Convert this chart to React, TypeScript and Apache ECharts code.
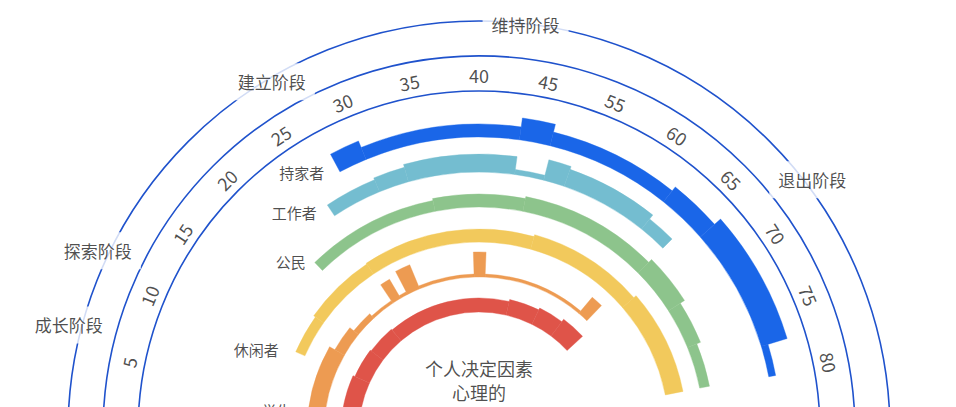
import { useEffect, useRef } from "react"
import * as echarts from "echarts"

// angle axis runs 0..80 from the left end (180°) to the right end (0°), one tick every 5 units
const tickLabels = ["", "5", "10", "15", "20", "25", "30", "35", "40", "45", "55", "60", "65", "70", "75", "80", ""]
const stageNames = ["成长阶段", "探索阶段", "建立阶段", "维持阶段", "退出阶段"]
const roleNames = ["子女", "学生", "休闲者", "公民", "工作者", "持家者"]
const centerLines = ["个人决定因素", "心理的", "生物的"]

// [start, end, thickness] along the angle axis
const childSegments = [[0, 10.7, 18], [10.7, 16.4, 16], [16.4, 22, 15], [22, 45.8, 14], [45.8, 51.6, 16], [51.6, 56.4, 18], [56.4, 61, 21]]
const studentSegments = [[0, 13.2, 17], [13.2, 17.3, 11], [17.3, 21, 6], [21, 25, 3], [25, 26.5, 22], [26.5, 27.8, 3], [27.8, 30, 26], [30, 39.2, 3], [39.2, 41, 25], [41, 57.8, 3], [57.8, 59.6, 21]]
const leisureSegments = [[10.5, 15.6, 10], [15.6, 25, 12], [25, 47, 13], [47, 61.8, 15], [61.8, 75, 18]]
const citizenSegments = [[20.4, 35, 11], [35, 45, 13], [45, 60, 15], [60, 65.5, 19], [65.5, 70.2, 14], [70.2, 75, 10]]
const workerSegments = [[25, 30, 13], [30, 33, 15], [33, 43.5, 18], [43.5, 46.4, 5], [46.4, 48.5, 21], [48.5, 57.2, 18], [57.2, 60, 13]]
const homemakerSegments = [[27.5, 30, 20], [30, 43.5, 13], [43.5, 46.2, 22], [46.2, 57.2, 14], [57.2, 61.6, 19], [61.6, 72.5, 27], [72.5, 75.2, 7]]

const roleSegments = [childSegments, studentSegments, leisureSegments, citizenSegments, workerSegments, homemakerSegments]

// layout
const CENTER = [479, 432]
const ringInner = [120, 155, 190, 225, 260, 295]
const ringColors = ["#df5449", "#ed9b52", "#f2c95c", "#8dc48c", "#74bdd0", "#1a66e8"]
const guideRadii = [341, 376, 411]
const TICK_R = 357
const stageLabelAt = [[424, 6.5], [422, 11.3], [407, 26.4], [410, 42.9], [418, 63.5]]
// the child label sits below the visible area, so it has no position here
const roleLabelAt: (number[] | null)[] = [null, [187, 3], [215, 10], [242, 19.9], [272, 23.9], [301, 26.4]]
const CENTER_TEXT_AT = [40, 40]

const FONT = "'Noto Sans CJK SC', 'Noto Sans', sans-serif"
const TEXT = "#1f1f1f"
const ARC = "#1f52cc"

const angleOf = (p: number[], cx: number, cy: number) => {
  let a = Math.atan2(p[1] - cy, p[0] - cx)
  if (a > Math.PI / 2) a -= Math.PI * 2
  return a
}

export default function App() {
  const chartRef = useRef<HTMLDivElement>(null)

  useEffect(() => {
    if (!chartRef.current) return
    const chart = echarts.init(chartRef.current, null, { renderer: "svg" })

    const ringRows: number[][] = []
    roleSegments.forEach((segs, i) => {
      segs.forEach(([s, e, t]) => ringRows.push([s, e, ringInner[i], t, i]))
    })

    const labelSeries = (data: any[], label: any, z = 6) => ({
      type: "scatter",
      coordinateSystem: "polar",
      silent: true,
      symbolSize: 1,
      itemStyle: { color: "transparent" },
      z,
      data,
      label: { show: true, formatter: "{b}", color: TEXT, fontFamily: FONT, ...label },
    })

    const option = {
      animation: false,
      polar: { center: CENTER, radius: 440 },
      angleAxis: { type: "value", min: 0, max: 80, startAngle: 180, endAngle: 0, clockwise: true, show: false },
      radiusAxis: { type: "value", min: 0, max: 440, show: false },
      series: [
        {
          type: "custom",
          coordinateSystem: "polar",
          silent: true,
          encode: { radius: 2, angle: 0 },
          data: ringRows,
          renderItem: (params: any, api: any) => {
            const cs = params.coordSys
            const s = api.value(0)
            const e = api.value(1)
            const r0 = api.value(2)
            const t = api.value(3)
            const color = ringColors[api.value(4)]
            const a = api.coord([r0, s])
            const b = api.coord([r0, e])
            const c = api.coord([r0 + t, s])
            return {
              type: "sector",
              shape: {
                cx: cs.cx,
                cy: cs.cy,
                r0: Math.hypot(a[0] - cs.cx, a[1] - cs.cy),
                r: Math.hypot(c[0] - cs.cx, c[1] - cs.cy),
                startAngle: angleOf(a, cs.cx, cs.cy),
                endAngle: angleOf(b, cs.cx, cs.cy),
                clockwise: true,
              },
              style: { fill: color, stroke: color, lineWidth: 0.4 },
            }
          },
        },
        {
          type: "custom",
          coordinateSystem: "polar",
          silent: true,
          encode: { radius: 0, angle: 1 },
          data: guideRadii.map((r) => [r, 0, 80]),
          renderItem: (params: any, api: any) => {
            const cs = params.coordSys
            const a = api.coord([api.value(0), api.value(1)])
            const b = api.coord([api.value(0), api.value(2)])
            return {
              type: "arc",
              shape: {
                cx: cs.cx,
                cy: cs.cy,
                r: Math.hypot(a[0] - cs.cx, a[1] - cs.cy),
                startAngle: angleOf(a, cs.cx, cs.cy),
                endAngle: angleOf(b, cs.cx, cs.cy),
                clockwise: true,
              },
              style: { stroke: ARC, lineWidth: 1.6, fill: "none" },
            }
          },
        },
        // age ticks
        labelSeries(
          tickLabels
            .map((t, i) => ({ name: t, value: [TICK_R, i * 5], label: { rotate: 90 - i * 11.25 } }))
            .filter((d) => d.name !== ""),
          { position: "inside", fontSize: 18 },
          5
        ),
        // life stages
        labelSeries(
          stageNames.map((n, i) => ({ name: n, value: stageLabelAt[i] })),
          { position: "inside", fontSize: 17, backgroundColor: "#ffffff", padding: [10, 9] }
        ),
        // roles
        labelSeries(
          roleNames
            .map((n, i) => ({ name: n, value: roleLabelAt[i] }))
            .filter((d) => d.value !== null),
          { position: "left", distance: 1, fontSize: 15 }
        ),
        // centre
        labelSeries(
          [{ name: centerLines.join("\n"), value: CENTER_TEXT_AT }],
          { position: "inside", fontSize: 18, lineHeight: 24, align: "center" }
        ),
      ],
    }

    chart.setOption(option as any)
    return () => chart.dispose()
  }, [])

  return <div ref={chartRef} style={{ position: "fixed", left: 0, top: 0, width: 956, height: 407, background: "#fff" }} />
}
